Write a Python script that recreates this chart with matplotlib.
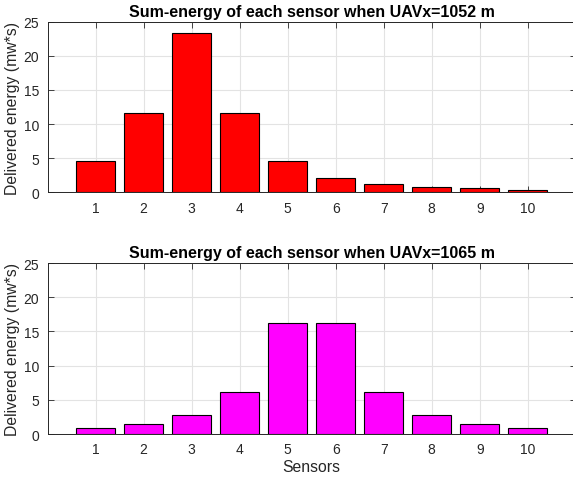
import matplotlib
matplotlib.use('Agg')
import matplotlib.pyplot as plt
import numpy as np

plt.rcParams['font.family'] = ['Liberation Sans', 'DejaVu Sans']

# data
sensors = [1, 2, 3, 4, 5, 6, 7, 8, 9, 10]
energy_1052 = [4.65, 11.67, 23.39, 11.67, 4.65, 2.05, 1.22, 0.78, 0.59, 0.40]
energy_1065 = [0.95, 1.53, 2.83, 6.20, 16.20, 16.20, 6.20, 2.83, 1.53, 0.95]
titles = ['Sum-energy of each sensor when UAVx=1052 m',
          'Sum-energy of each sensor when UAVx=1065 m']
colors = ['#ff0000', '#ff00ff']

fig = plt.figure(figsize=(5.73, 4.81), dpi=100)
ax_top = fig.add_axes([0.0832, 0.598, 0.9215, 0.3547])
ax_bot = fig.add_axes([0.0832, 0.0956, 0.9215, 0.3555])

dark = '#262626'
for ax, vals, title, col in zip([ax_top, ax_bot], [energy_1052, energy_1065], titles, colors):
    ax.bar(sensors, vals, width=0.8, color=col, edgecolor='black', linewidth=0.8, zorder=3)
    ax.set_xlim(0, 11)
    ax.set_ylim(0, 25)
    ax.set_xticks(sensors)
    ax.set_yticks([0, 5, 10, 15, 20, 25])
    ax.grid(True, color='#e3e3e3', linewidth=0.8, zorder=0)
    ax.set_axisbelow(True)
    ax.tick_params(direction='in', length=4, width=0.6, top=True, right=True,
                   labelsize=10, colors=dark, labelcolor=dark, pad=6)
    for s in ax.spines.values():
        s.set_color(dark)
        s.set_linewidth(0.7)
    ax.set_title(title, fontsize=11.5, fontweight='bold', color='black', pad=4)
    ax.set_ylabel('Delivered energy (mw*s)', fontsize=11.3, color=dark, labelpad=3)

ax_bot.set_xlabel('Sensors', fontsize=11.3, color=dark, labelpad=2)

fig.savefig('out.png', dpi=100)
